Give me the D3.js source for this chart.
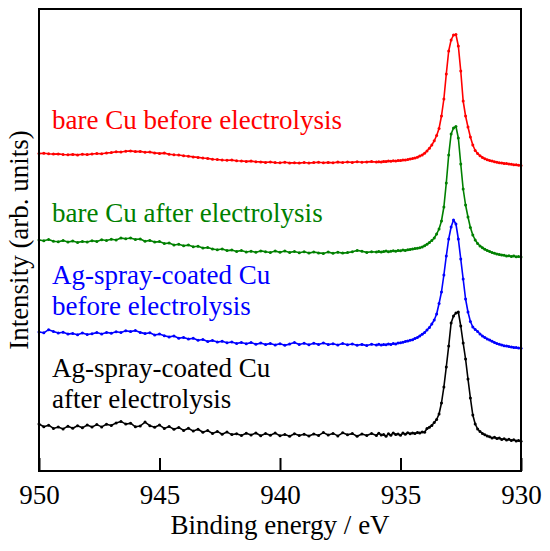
<!DOCTYPE html>
<html>
  <head>
    <meta charset="UTF-8" />
    <style>
      body {
        margin: 0;
        background-color: #ffffff;
      }
    </style>
  </head>

  <body>
    <svg id="chart" width="550" height="551"></svg>

    <script src="https://d3js.org/d3.v7.min.js"></script>
    <script>
      // binding energy grid (eV): 0.2 eV steps over the flat part, 0.1 eV over the peak
      const energyWide = d3.range(0, 70).map((i) => +(950 - 0.2 * i).toFixed(1));
      const energyFine = d3.range(0, 61).map((i) => +(936 - 0.1 * i).toFixed(1));
      const energies = energyWide.concat(energyFine);

      const xTicks = [950, 945, 940, 935, 930];

      // intensities (arb. units, stacked as in the figure)
      const bareBefore = [
        317.5, 317.8, 317.2, 316.9, 317.1, 316.5, 316.2, 316.6, 316.1, 316.7,
        316.4, 317.0, 317.5, 317.2, 318.0, 318.4, 319.2, 319.0, 319.8, 320.1,
        319.4, 319.6, 318.8, 318.9, 318.1, 317.6, 317.9, 316.8, 316.3, 316.0,
        315.2, 314.8, 314.1, 313.6, 313.0, 312.6, 311.8, 311.5, 311.0, 310.7,
        310.9, 310.2, 310.0, 309.6, 309.9, 309.3, 309.1, 308.6, 309.0, 308.4,
        308.2, 308.7, 308.1, 308.3, 307.9, 308.5, 308.0, 308.4, 308.8, 308.2,
        308.6, 308.3, 308.9, 308.5, 309.0, 308.6, 309.2, 308.8, 309.1, 309.4,
        309.0, 309.3, 309.1, 309.6, 309.4, 309.9, 309.7, 310.2, 310.0, 310.5,
        310.4, 310.9, 311.1, 311.5, 312.0, 312.4, 313.1, 313.8, 314.9, 316.0,
        317.8, 320.0, 322.8, 326.0, 330.2, 335.5, 342.5, 355, 372, 397,
        420, 431, 436, 436.5, 425, 400, 370, 355, 344, 334,
        326, 320.5, 317.5, 315.2, 313.6, 312.2, 311.3, 310.4, 310.0, 309.2,
        308.8, 308.3, 308.1, 307.6, 307.4, 307.0, 306.8, 306.3, 306.2, 305.8,
        305.6
      ];
      const bareAfter = [
        231.0, 230.2, 231.5, 229.8, 229.2, 230.4, 229.0, 229.9, 228.6, 229.5,
        229.0, 230.3, 229.6, 231.2, 230.5, 231.8, 231.0, 232.9, 232.2, 233.0,
        231.6, 232.0, 229.8, 230.6, 228.9, 229.4, 227.5, 227.9, 226.0, 226.8,
        225.3, 225.9, 224.2, 224.8, 222.9, 223.5, 222.0, 221.2, 222.0, 220.4,
        220.9, 219.6, 220.5, 219.0, 219.8, 218.7, 220.1, 219.2, 218.5, 219.9,
        218.8, 220.0, 218.6, 219.5, 218.2, 219.3, 217.9, 219.0, 218.1, 217.6,
        218.9, 217.8, 218.7, 217.9, 218.4, 219.2, 220.6, 219.8, 218.6, 219.3,
        219.0, 219.6, 218.9, 219.4, 219.9, 219.2, 219.8, 220.3, 219.7, 220.4,
        220.2, 220.9, 220.6, 221.3, 221.6, 222.0, 222.4, 222.8, 223.3, 224.0,
        225.3, 226.8, 228.5, 230.5, 233.0, 237.0, 242.0, 250, 264, 288,
        316, 337, 343, 344.5, 333, 307, 282, 266, 254, 243.5,
        236, 231, 227.5, 225, 223.3, 221.8, 220.5, 219.6, 218.4, 217.8,
        217.0, 216.6, 216.0, 215.7, 215.0, 215.3, 214.6, 214.9, 214.2, 214.5,
        214.0
      ];
      const agBefore = [
        139.0, 138.2, 141.3, 139.5, 138.0, 138.8, 136.9, 137.6, 136.2, 137.9,
        136.5, 137.3, 138.4, 137.0, 138.6, 137.8, 139.2, 138.5, 140.3, 139.4,
        140.5, 138.6, 137.4, 138.2, 136.0, 136.9, 135.2, 134.1, 135.0, 132.8,
        133.6, 131.9, 132.7, 130.8, 131.5, 129.4, 130.6, 128.9, 129.8, 128.2,
        129.0, 127.5, 128.6, 127.2, 128.4, 126.8, 127.9, 126.4, 127.6, 126.1,
        127.3, 125.8, 126.9, 128.4, 126.5, 127.7, 126.2, 127.8, 126.6, 128.1,
        126.4, 127.2, 125.9, 127.5, 126.3, 127.0, 125.7, 126.6, 125.4, 126.8,
        126.0, 126.8, 125.9, 126.5, 126.2, 127.0, 126.6, 127.4, 127.1, 127.9,
        128.3, 128.8, 129.6, 130.1, 130.8, 131.2, 132.5, 133.6, 135.0, 136.8,
        138.5, 141.0, 143.5, 147.0, 151.0, 157.0, 167.5, 179, 196, 215,
        232, 244, 251, 247, 232, 212, 192, 172, 159, 149.5,
        144, 141.5, 139.5, 137, 135, 133.5, 132, 131, 129.8, 128.6,
        127.5, 126.8, 126.0, 125.3, 125.0, 124.4, 124.1, 123.6, 123.4, 123.0,
        122.8
      ];
      const agAfter = [
        47.0, 44.2, 45.8, 42.6, 43.9, 42.1, 44.7, 42.8, 45.3, 43.2,
        45.9, 44.0, 46.4, 44.1, 46.8, 45.5, 48.1, 49.6, 46.9, 47.8,
        44.2, 45.0, 48.9, 45.3, 43.8, 45.9, 42.6, 44.4, 41.8, 43.5,
        40.6, 42.8, 39.9, 41.7, 38.8, 40.4, 37.5, 39.6, 36.8, 38.9,
        36.4, 37.2, 35.6, 37.8, 35.9, 38.0, 35.2, 37.4, 35.8, 37.9,
        35.3, 36.6, 34.7, 37.2, 35.5, 36.8, 34.9, 37.1, 35.6, 38.4,
        36.0, 37.6, 35.1, 38.2, 36.3, 37.4, 34.8, 36.9, 35.4, 37.5,
        35.6, 37.8, 35.9, 36.5, 34.8, 37.2, 35.8, 38.1, 36.4, 37.0,
        35.7, 37.9, 36.8, 38.3, 37.2, 38.0, 37.4, 38.6, 38.1, 39.0,
        38.7, 42.5, 43.8, 45.6, 48.5, 51.5, 57, 68, 84, 104,
        125, 148, 155, 158, 159, 145, 128, 112, 92, 73,
        56, 47, 42, 39.5, 37.5, 36.2, 35.0, 34.2, 33.0, 33.8,
        32.4, 32.9, 31.6, 32.3, 31.0, 31.7, 30.4, 31.2, 30.0, 30.6,
        29.8
      ];

      const seriesNames = ["bareBefore", "bareAfter", "agBefore", "agAfter"];
      const seriesValues = [bareBefore, bareAfter, agBefore, agAfter];
      const seriesLabels = [
        ["bare Cu before electrolysis"],
        ["bare Cu after electrolysis"],
        ["Ag-spray-coated Cu", "before electrolysis"],
        ["Ag-spray-coated Cu", "after electrolysis"],
      ];
      const colors = ["#ff0000", "#008000", "#0000ff", "#000000"];

      const serifFont = "Liberation Serif";

      const margin = { top: 9, right: 29, bottom: 80, left: 39 };
      const width = 550 - margin.left - margin.right;
      const height = 551 - margin.top - margin.bottom;

      const svg = d3.select("#chart");
      const chart = svg
        .append("g")
        .attr("transform", `translate(${margin.left}, ${margin.top})`);

      const xScale = d3.scaleLinear().domain([950, 930]).range([0, width]);
      const yScale = d3.scaleLinear().domain([0, 462]).range([height, 0]);

      const line = d3
        .line()
        .x((d) => xScale(d.e))
        .y((d) => yScale(d.v));

      seriesValues.forEach((vals, k) => {
        const pts = vals.map((v, i) => ({ e: energies[i], v: v }));
        const grp = chart.append("g").attr("class", seriesNames[k]);
        grp
          .append("path")
          .datum(pts)
          .attr("d", line)
          .attr("fill", "none")
          .attr("stroke", colors[k])
          .attr("stroke-width", 1.6)
          .attr("stroke-linejoin", "round");
        grp
          .selectAll("circle")
          .data(pts)
          .enter()
          .append("circle")
          .attr("cx", (d) => xScale(d.e))
          .attr("cy", (d) => yScale(d.v))
          .attr("r", 1.5)
          .attr("fill", colors[k]);
      });

      // bottom axis with inward ticks
      const xAxis = chart
        .append("g")
        .attr("transform", `translate(0, ${height})`)
        .call(
          d3
            .axisBottom(xScale)
            .tickValues(xTicks)
            .tickSizeInner(-13)
            .tickSizeOuter(0)
            .tickFormat(d3.format("d"))
        )
        .attr("font-family", serifFont)
        .attr("font-size", 27);
      xAxis.select(".domain").remove();
      xAxis.selectAll(".tick line").attr("stroke", "#000").attr("stroke-width", 2);
      xAxis
        .selectAll(".tick text")
        .attr("y", 33)
        .attr("dy", 0)
        .attr("fill", "#000");

      // frame
      chart
        .append("rect")
        .attr("x", 0)
        .attr("y", 0)
        .attr("width", width)
        .attr("height", height)
        .attr("fill", "none")
        .attr("stroke", "#000")
        .attr("stroke-width", 2);

      // series labels
      const labelBaselines = [128.5, 221.5, 283.5, 376.5];
      seriesLabels.forEach((lines, k) => {
        const t = svg
          .append("text")
          .attr("x", 52)
          .attr("y", labelBaselines[k])
          .attr("fill", colors[k])
          .attr("font-family", serifFont)
          .attr("font-size", 27);
        lines.forEach((s, j) => {
          t.append("tspan")
            .attr("x", 52)
            .attr("dy", j === 0 ? 0 : 31.5)
            .text(s);
        });
      });

      svg
        .append("text")
        .attr("transform", "translate(28, 240) rotate(-90)")
        .attr("text-anchor", "middle")
        .attr("font-family", serifFont)
        .attr("font-size", 27)
        .text("Intensity (arb. units)");

      svg
        .append("text")
        .attr("x", margin.left + width / 2)
        .attr("y", 534)
        .attr("text-anchor", "middle")
        .attr("font-family", serifFont)
        .attr("font-size", 27)
        .text("Binding energy / eV");
    </script>
  </body>
</html>
